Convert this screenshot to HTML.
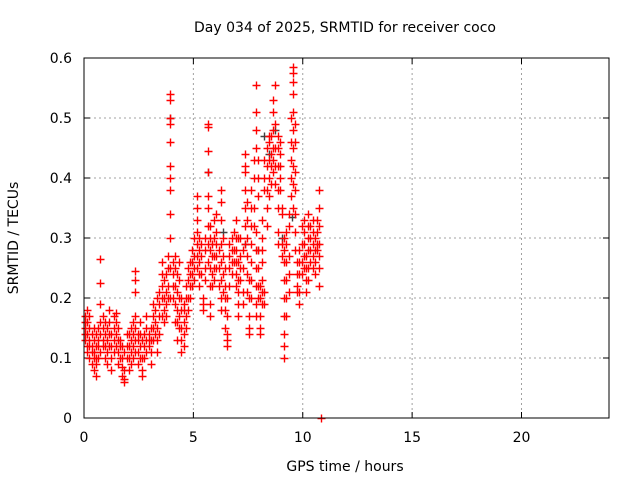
<!DOCTYPE html>
<html><head><meta charset="utf-8"><style>
body{margin:0;background:#fff;width:640px;height:480px;overflow:hidden}
svg{font-family:"DejaVu Sans","Liberation Sans",sans-serif;font-size:14px}
</style></head><body>
<svg id="chart" width="640" height="480" xmlns="http://www.w3.org/2000/svg">
<text x="345" y="32" text-anchor="middle">Day 034 of 2025, SRMTID for receiver coco</text>
<text x="345" y="471" text-anchor="middle">GPS time / hours</text>
<text transform="translate(18,238) rotate(-90)" text-anchor="middle">SRMTID / TECUs</text>
<g id="grid"></g><g id="ticks"></g><g id="pts"></g>
<rect x="84" y="58" width="525" height="360" fill="none" stroke="#000" stroke-width="1"/>
</svg>
<script>
const xTicks=[0,5,10,15,20];
const yTicks=[0,0.1,0.2,0.3,0.4,0.5,0.6];
const yTickLabels=["0","0.1","0.2","0.3","0.4","0.5","0.6"];
const redT=[0.05,0.15,0.25,0.35,0.45,0.55,0.65,0.75,0.85,0.95,1.05,1.15,1.25,1.35,1.45,1.55,1.65,1.75,1.85,1.95,2.05,2.15,2.25,2.35,2.45,2.55,2.65,2.75,2.85,2.95,3.05,3.15,3.25,3.35,3.45,3.55,3.65,3.75,3.85,3.95,4.05,4.15,4.25,4.35,4.45,4.55,4.65,4.75,4.85,4.95,5.05,5.15,5.25,5.35,5.45,5.55,5.65,5.75,5.85,5.95,6.05,6.15,6.25,6.35,6.45,6.55,6.65,6.75,6.85,6.95,7.05,7.15,7.25,7.35,7.45,7.55,7.65,7.75,7.85,7.95,8.05,8.15,8.25,8.35,8.45,8.55,8.65,8.75,8.85,8.95,9.05,9.15,9.25,9.35,9.45,9.55,9.65,9.75,9.85,9.95,10.05,10.15,10.25,10.35,10.45,10.55,10.65,10.75,10.85];
const redV=[[.14,.15,.16,.13,.17],[.12,.14,.16,.18,.11],[.10,.12,.13,.15,.17],[.09,.11,.12,.14],[.08,.10,.11,.13,.15],[.07,.09,.10,.12,.14],[.10,.12,.13,.15],[.11,.14,.16,.19,.225,.265],[.12,.13,.15,.17],[.10,.12,.14,.16],[.09,.11,.13,.15],[.12,.14,.16,.18],[.08,.10,.12,.14],[.11,.13,.15,.17],[.12,.14,.16,.175],[.09,.11,.13,.15],[.10,.12,.13],[.07,.085,.10,.12],[.06,.065,.08,.11],[.10,.12,.14],[.08,.10,.12,.14],[.09,.11,.13,.15],[.10,.12,.14,.16],[.11,.13,.15,.17,.21,.23,.245],[.09,.11,.13,.14],[.10,.12,.14,.16],[.07,.08,.10,.13],[.10,.12,.14],[.11,.13,.15,.17],[.12,.13,.14],[.09,.11,.13,.15],[.13,.15,.17,.19],[.14,.16,.18],[.11,.13,.15,.20],[.14,.17,.19,.21],[.17,.20,.22,.24,.26],[.16,.18,.20,.23],[.17,.19,.21,.24],[.20,.22,.25,.27],[.20,.25,.30,.34,.38,.40,.42,.46,.49,.50,.53,.54],[.20,.22,.24,.26],[.16,.19,.22,.25,.27],[.13,.16,.18,.21,.24],[.15,.17,.20,.23,.26],[.11,.13,.15,.18,.20],[.12,.14,.16,.18,.19],[.15,.17,.20,.22],[.18,.20,.23,.25],[.20,.22,.24,.26],[.22,.24,.26,.28],[.23,.25,.27,.30],[.25,.27,.29,.31,.33,.35,.37],[.22,.24,.26,.28,.30],[.24,.27,.29],[.18,.19,.20],[.23,.25,.28,.30],[.26,.29,.32,.35,.37,.41,.445,.485,.49],[.17,.19,.22,.25,.28,.30,.32],[.22,.24,.27,.29],[.23,.25,.27,.30,.33],[.25,.27,.29,.31,.34],[.22,.25,.28],[.18,.20,.23,.26,.29,.33,.38,.36],[.21,.24,.27,.30],[.15,.18,.20,.22,.25],[.12,.13,.14,.17,.20],[.22,.25,.27,.29],[.24,.26,.28,.30],[.26,.28,.31],[.22,.24,.26,.28,.30,.33],[.17,.19,.21,.23,.26,.30],[.23,.25,.27,.30],[.19,.21,.25,.28],[.29,.32,.35,.38,.41,.42,.44],[.21,.24,.27,.30,.33,.36],[.14,.15,.17,.20,.23],[.20,.23,.26,.29,.32,.35,.38],[.32,.35,.40,.43],[.17,.19,.22,.25,.28,.31,.45,.48,.51,.555],[.20,.22,.25,.28,.37,.40,.43],[.14,.15,.17,.20,.22],[.19,.21,.23,.26,.28,.30,.33],[.19,.21,.38,.40,.43],[.32,.35,.38,.42,.45],[.37,.40,.43,.46,.47],[.39,.42,.44,.47],[.41,.43,.45,.48,.51,.53],[.39,.42,.45,.49,.555],[.29,.31,.35,.38,.42,.45,.47],[.38,.40,.42,.44,.46],[.27,.29,.34,.35],[.10,.12,.14,.17,.20,.23,.26,.28,.30],[.17,.20,.23,.26,.29,.31],[.21,.24,.27,.32,.34],[.37,.40,.43,.46,.50],[.35,.39,.42,.45,.48,.51,.54,.56,.575,.585],[.28,.31,.34,.38,.41,.46,.49],[.21,.22,.24,.26],[.19,.21,.24,.26,.28],[.24,.26,.29,.32],[.25,.27,.29,.31,.33],[.21,.23,.25,.27],[.23,.25,.28,.30,.32,.34],[.26,.28,.30,.32],[.25,.27,.29,.31,.33],[.24,.26,.28,.30],[.28,.29,.31,.33],[.22,.25,.27,.29,.32,.35,.38],[0]];
const grayT=[3.95,5.65,6.35,7.35,7.95,8.25,8.45,8.75,9.5,9.05];
const grayV=[0.50,0.41,0.31,0.29,0.28,0.47,0.44,0.48,0.335,0.30];
const X=t=>84+t*525/24, Y=v=>418-v*600;
const NS="http://www.w3.org/2000/svg";
function mk(tag,attrs,parent){const e=document.createElementNS(NS,tag);for(const k in attrs)e.setAttribute(k,attrs[k]);parent.appendChild(e);return e;}
const grid=document.getElementById('grid'),ticks=document.getElementById('ticks'),pts=document.getElementById('pts');
xTicks.forEach(t=>{const x=X(t);
 if(t>0){const g=mk('line',{x1:x,x2:x,y1:58,y2:418,stroke:'#a0a0a0','stroke-dasharray':'2,3'},grid);
 
 }
 mk('line',{x1:x,x2:x,y1:418,y2:412,stroke:'#000'},ticks);mk('line',{x1:x,x2:x,y1:58,y2:64,stroke:'#000'},ticks);
 const l=mk('text',{x:x,y:442,'text-anchor':'middle'},ticks);l.textContent=t;
 
 });
yTicks.forEach((v,i)=>{const y=Y(v);
 if(v>0&&v<0.6){const g=mk('line',{x1:84,x2:609,y1:y,y2:y,stroke:'#a0a0a0','stroke-dasharray':'2,3'},grid);
 
 }
 mk('line',{x1:84,x2:90,y1:y,y2:y,stroke:'#000'},ticks);mk('line',{x1:603,x2:609,y1:y,y2:y,stroke:'#000'},ticks);
 const l=mk('text',{x:72,y:y+5,'text-anchor':'end'},ticks);l.textContent=yTickLabels[i];
 
 });
function plus(t,v,c,name){const x=Math.round(X(t))+0.5,y=Math.round(Y(v))+0.5;
 const p=mk('path',{d:`M${x-4},${y}h8M${x},${y-4}v8`,stroke:c,'stroke-width':1.4,fill:'none'},pts);
 
 }
grayT.forEach((t,i)=>plus(t,grayV[i],'#404040','gray-point'));
redT.forEach((t,i)=>redV[i].forEach(v=>plus(t,v,'#ff0000','red-point')));
</script>
</body></html>
